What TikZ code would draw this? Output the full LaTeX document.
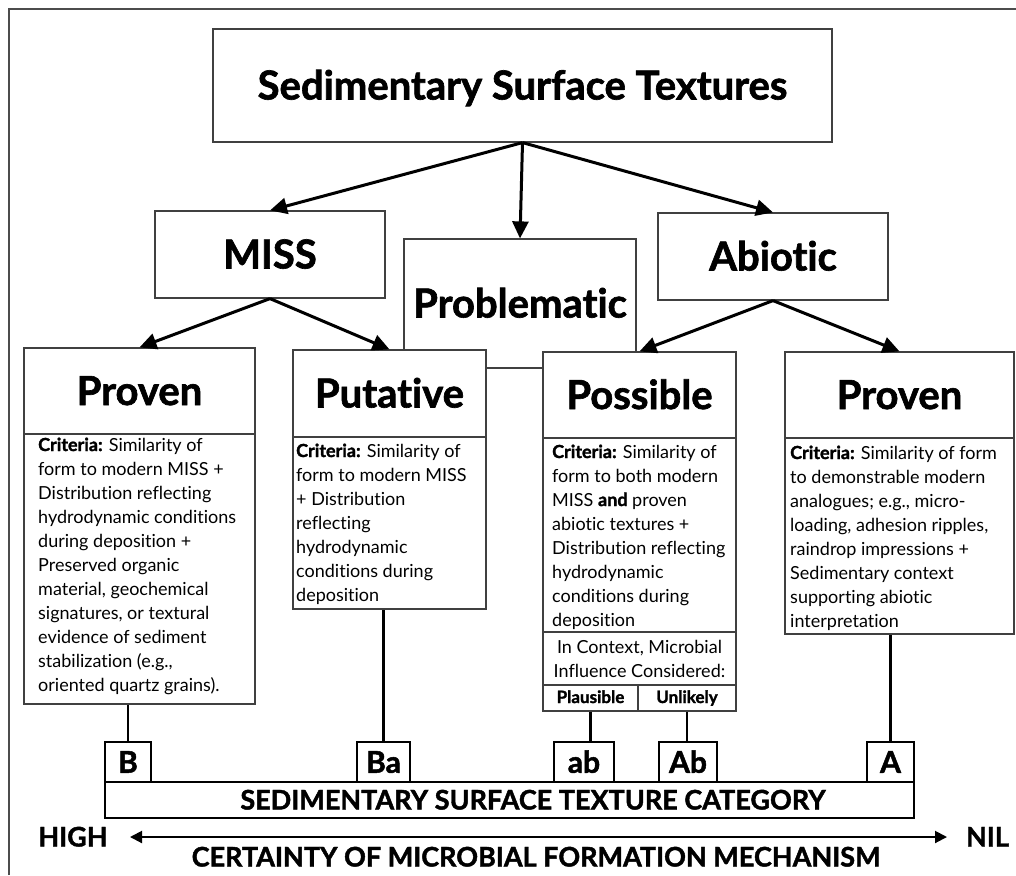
\documentclass[tikz,border=0pt]{standalone}
\usepackage{fontspec}
\setmainfont{Lato}[Ligatures=NoCommon,BoldFeatures={FakeBold=1.6}]
\usetikzlibrary{arrows.meta}

\begin{document}
\begin{tikzpicture}[x=1pt,y=-1pt,
 box/.style={draw=black!75,line width=1.2pt,fill=white,inner sep=0pt},
 head/.style={box,font=\bfseries\fontsize{40}{44}\selectfont,text height=28pt,text depth=0pt},
 crit/.style={font=\fontsize{18}{24}\selectfont,align=left,inner sep=0pt,anchor=base west},
 tip/.style={-{Triangle[length=17pt,width=16pt]},line width=3pt},
 stem/.style={line width=2.3pt},
 letbox/.style={draw,line width=2pt,fill=white,inner sep=0pt,minimum height=40,text height=21.5pt,text depth=0pt,font=\bfseries\fontsize{30}{30}\selectfont},
 caps/.style={inner sep=0pt,text height=19pt,text depth=0pt,font=\bfseries\fontsize{27}{27}\selectfont},
 small/.style={box,minimum height=26,text height=13pt,text depth=3pt,font=\bfseries\fontsize{17}{20}\selectfont}]

\useasboundingbox (0,0) rectangle (1016,875);
\draw[black!70,line width=2pt] (9,875) -- (9,9) -- (1016,9);

%top
\node[head,minimum width=619,minimum height=113] (sst) at (522.5,85.5) {Sedimentary Surface Textures};
\node[head,minimum width=230,minimum height=87] (miss) at (270,254.5) {MISS};
\node[head,minimum width=232,minimum height=129] (prob) at (520,303.5) {Problematic};
\node[head,minimum width=230,minimum height=87] (abio) at (773,256.5) {Abiotic};

%MISS proven
\node[head,minimum width=231,minimum height=86] (provM) at (139.5,391) {Proven};
\node[box,minimum width=231,minimum height=270] (critM) at (139.5,569) {};
\node[crit] (txtM) at (38,691) {\textbf{Criteria:} Similarity of\\form to modern MISS +\\Distribution reflecting\\hydrodynamic conditions\\during deposition +\\Preserved organic\\material, geochemical\\signatures, or textural\\evidence of sediment\\stabilization (e.g.,\\oriented quartz grains).};

%putative
\node[head,minimum width=193,minimum height=87] (putat) at (389.5,393.5) {Putative};
\node[box,minimum width=193,minimum height=172] (critP) at (389.5,523) {};
\node[crit] (txtP) at (296,601) {\textbf{Criteria:} Similarity of\\form to modern MISS\\+ Distribution\\reflecting\\hydrodynamic\\conditions during\\deposition};

%possible
\node[head,minimum width=193,minimum height=86] (possi) at (639.5,395) {Possible};
\node[box,minimum width=193,minimum height=194] (critS) at (639.5,535) {};
\node[crit] (txtS) at (552,626) {\textbf{Criteria:} Similarity of\\form to both modern\\MISS \textbf{and} proven\\abiotic textures +\\Distribution reflecting\\hydrodynamic\\conditions during\\deposition};
\node[box,minimum width=193,minimum height=53,align=center,font=\fontsize{18}{24}\selectfont] (ctx) at (639.5,658.5) {In Context, Microbial\\Influence Considered:};
\node[small,minimum width=95] (plaus) at (590.5,698) {Plausible};
\node[small,minimum width=98] (unlik) at (687,698) {Unlikely};

%abiotic proven
\node[head,minimum width=229,minimum height=86] (provA) at (899.5,395) {Proven};
\node[box,minimum width=229,minimum height=196] (critA) at (899.5,536) {};
\node[crit] (txtA) at (790,627) {\textbf{Criteria:} Similarity of form\\to demonstrable modern\\analogues; e.g., micro-\\loading, adhesion ripples,\\raindrop impressions +\\Sedimentary context\\supporting abiotic\\interpretation};

\draw[tip] (sst.south) -- (miss.north);
\draw[tip] (sst.south) -- (prob.north);
\draw[tip] (sst.south) -- (abio.north);
\draw[tip] (miss.south) -- (provM.north);
\draw[tip] (miss.south) -- (putat.north);
\draw[tip] (abio.south) -- (possi.north);
\draw[tip] (abio.south) -- (provA.north);

%category
\node[draw,line width=2.3pt,inner sep=0pt,minimum width=809,minimum height=36] (bar) at (509.5,800) {};
\node[caps] (bartxt) at (533,800) {SEDIMENTARY SURFACE TEXTURE CATEGORY};
\foreach \n/\x/\w/\lab in {B/128/46/B,Ba/383.5/53/Ba,ab/584/60/ab,Ab/688/58/Ab,A/890.5/47/A}
 \node[letbox,minimum width=\w] (\n) at (\x,762) {\lab};

\draw[stem] (B) -- (B |- critM.south);
\draw[stem] (Ba) -- (Ba |- critP.south);
\draw[stem] (plaus) -- (plaus |- ab.north);
\draw[stem] (unlik) -- (unlik |- Ab.north);
\draw[stem] (A) -- (A |- critA.south);

%certainty
\node[caps] (high) at (73,837) {HIGH};
\node[caps] (nil) at (987.5,837) {NIL};
\draw[{Triangle[length=12pt,width=12pt]}-{Triangle[length=12pt,width=12pt]},line width=2pt,shorten <=57pt,shorten >=40.5pt] (high.center) -- (nil.center);
\node[caps] (cert) at (536,857) {CERTAINTY OF MICROBIAL FORMATION MECHANISM};

\end{tikzpicture}
\end{document}
